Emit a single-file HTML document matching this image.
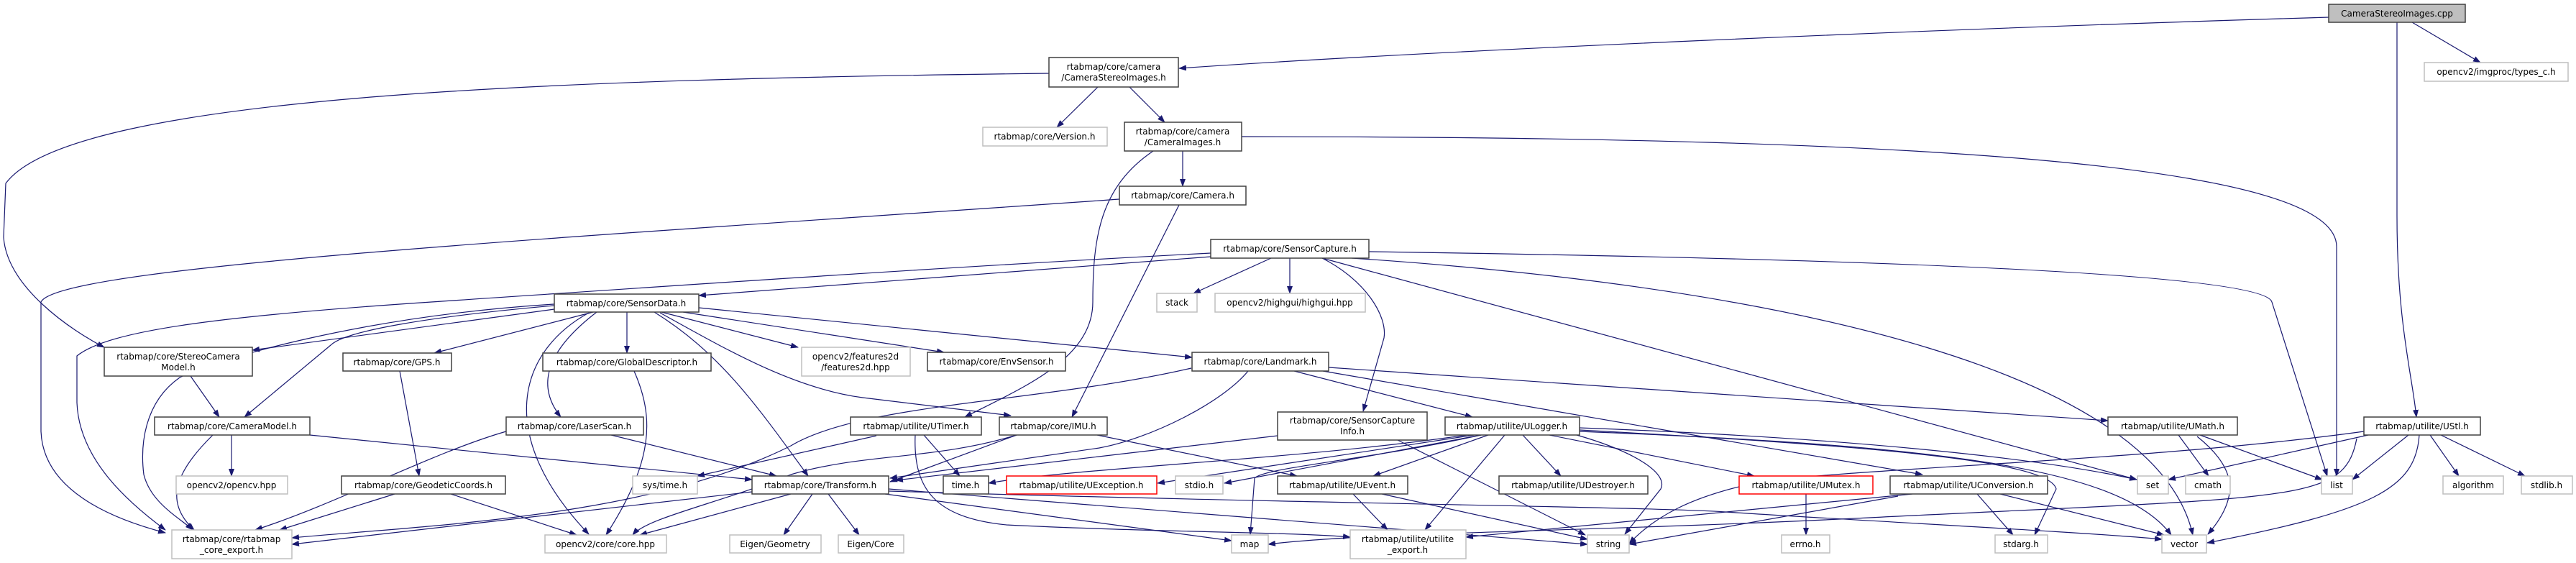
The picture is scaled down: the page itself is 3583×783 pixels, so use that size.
<!DOCTYPE html>
<html><head><meta charset="utf-8"><style>
html,body{margin:0;padding:0;background:#fff;}
svg{display:block;}
text{font-family:"DejaVu Sans","Liberation Sans",sans-serif;font-size:12px;fill:#000;text-anchor:middle;}
.e{fill:none;stroke:#191970;stroke-width:1.2;marker-end:url(#a);}
.B{fill:#fff;stroke:#404040;stroke-width:1.5;}
.G{fill:#fff;stroke:#bfbfbf;stroke-width:1.5;}
.R{fill:#fff;stroke:#ff0000;stroke-width:1.5;}
</style></head><body>
<svg width="3583" height="783" viewBox="0 0 3583 783" xmlns="http://www.w3.org/2000/svg">
<defs><marker id="a" markerUnits="userSpaceOnUse" markerWidth="11" markerHeight="8" refX="10" refY="4" orient="auto"><path d="M0,0 L11,4 L0,8 z" fill="#191970"/></marker></defs>
<!-- edges -->
<path class="e" d="M3239,24 C2700,40 2000,70 1640,95"/>
<path class="e" d="M3355,31 L3450,87"/>
<path class="e" d="M3334,31 L3334,300 C3334,450 3355,520 3361,580"/>
<path class="e" d="M1459,102 C800,110 100,130 8,255 L5,330 C10,400 100,460 145,483"/>
<path class="e" d="M1527,121 L1470,177"/>
<path class="e" d="M1571,121 L1620,170"/>
<path class="e" d="M1645,210 L1645,259"/>
<path class="e" d="M1727,190 C2700,190 3250,230 3250,343 L3250,662"/>
<path class="e" d="M1604,210 C1530,260 1520,330 1520,420 C1520,500 1420,540 1342,580"/>
<path class="e" d="M1640,285 L1491,580"/>
<path class="e" d="M1557,277 C800,330 80,370 57,420 L57,600 C60,680 150,720 230,741"/>
<path class="e" d="M1684,357 L972,411"/>
<path class="e" d="M1684,352 C1300,372 900,400 600,420 C300,440 150,460 107,495 L107,560 C110,640 180,700 230,737"/>
<path class="e" d="M1768,359 L1660,408"/>
<path class="e" d="M1794,359 L1794,408"/>
<path class="e" d="M1839,359 C1900,390 1930,440 1925,470 L1896,572"/>
<path class="e" d="M1839,359 L2972,667"/>
<path class="e" d="M1904,350 C2600,360 3150,380 3160,420 L3237,662"/>
<path class="e" d="M1880,359 C2500,400 3000,520 3050,744"/>
<path class="e" d="M771,430 L351,487"/>
<path class="e" d="M771,425 C600,440 480,460 460,480 L340,580"/>
<path class="e" d="M771,423 C500,440 300,500 250,525 C200,560 195,620 200,660 C210,700 250,720 268,737"/>
<path class="e" d="M825,434 L604,491"/>
<path class="e" d="M872,434 L872,491"/>
<path class="e" d="M920,434 L1110,483"/>
<path class="e" d="M950,434 L1313,490"/>
<path class="e" d="M972,428 L1658,497"/>
<path class="e" d="M830,434 C770,480 740,530 780,580"/>
<path class="e" d="M819,435 C719,490 689,607 819,743"/>
<path class="e" d="M910,434 C1000,490 1050,560 1124,662"/>
<path class="e" d="M918,435 C1000,480 1100,540 1200,553 L1406,578"/>
<path class="e" d="M1657,512 C1450,560 1200,560 1100,620 C900,720 600,730 406,748"/>
<path class="e" d="M1736,516 C1700,560 1600,610 1529,623 L1238,665"/>
<path class="e" d="M1800,516 L2048,580"/>
<path class="e" d="M1848,511 L2932,585"/>
<path class="e" d="M1840,516 L2674,660"/>
<path class="e" d="M1285,605 L1335,662"/>
<path class="e" d="M1219,606 L970,662"/>
<path class="e" d="M1273,605 C1270,680 1300,720 1400,730 C1600,740 1800,740 1878,747"/>
<path class="e" d="M1414,605 L1238,670"/>
<path class="e" d="M1414,605 C1300,640 1200,630 1100,660 C1000,700 900,720 880,744"/>
<path class="e" d="M1526,605 L1804,662"/>
<path class="e" d="M1777,606 L1246,668"/>
<path class="e" d="M1944,612 L2205,744"/>
<path class="e" d="M2040,605 C1800,640 1500,650 1375,672"/>
<path class="e" d="M2050,605 L1610,672"/>
<path class="e" d="M2060,605 L1703,672"/>
<path class="e" d="M2060,605 C1900,640 1760,650 1745,665 L1739,743"/>
<path class="e" d="M2070,605 L1910,662"/>
<path class="e" d="M2093,605 L1982,737"/>
<path class="e" d="M2118,605 L2171,662"/>
<path class="e" d="M2193,605 C2280,630 2320,660 2310,680 L2260,743"/>
<path class="e" d="M2155,605 L2440,662"/>
<path class="e" d="M2197,595 C2600,610 2850,640 2972,667"/>
<path class="e" d="M2197,598 C2600,620 2850,640 2860,680 L2830,744"/>
<path class="e" d="M2197,600 C2700,620 2950,650 3020,744"/>
<path class="e" d="M3030,605 L3072,662"/>
<path class="e" d="M3056,607 C3110,650 3117,690 3071,743"/>
<path class="e" d="M3060,605 L3230,667"/>
<path class="e" d="M3294,605 L3016,667"/>
<path class="e" d="M3350,605 L3272,667"/>
<path class="e" d="M3380,605 L3420,662"/>
<path class="e" d="M3395,605 L3512,662"/>
<path class="e" d="M3365,605 C3360,680 3300,710 3070,755"/>
<path class="e" d="M3288,600 C3000,640 2600,650 2450,670 C2350,690 2300,720 2266,756"/>
<path class="e" d="M3278,610 C3260,700 3200,690 2600,720 C2200,740 1900,740 1764,757"/>
<path class="e" d="M2750,687 L2800,744"/>
<path class="e" d="M2782,687 L3010,744"/>
<path class="e" d="M2640,690 L2266,757"/>
<path class="e" d="M2660,687 L2039,747"/>
<path class="e" d="M2512,687 L2512,744"/>
<path class="e" d="M1882,687 L1930,737"/>
<path class="e" d="M1922,687 L2208,750"/>
<path class="e" d="M1046,684 L406,757"/>
<path class="e" d="M1100,687 L890,744"/>
<path class="e" d="M1130,687 L1090,744"/>
<path class="e" d="M1152,687 L1195,744"/>
<path class="e" d="M1231,687 L1713,752"/>
<path class="e" d="M1236,680 L2208,757"/>
<path class="e" d="M1236,683 C1800,700 2300,705 2400,712 C2600,725 2900,740 3007,750"/>
<path class="e" d="M296,605 C240,660 230,700 270,737"/>
<path class="e" d="M322,605 L322,662"/>
<path class="e" d="M431,605 L1046,667"/>
<path class="e" d="M265,523 L305,580"/>
<path class="e" d="M556,516 L583,662"/>
<path class="e" d="M882,516 C910,580 910,640 843,744"/>
<path class="e" d="M704,600 C600,630 470,700 355,737"/>
<path class="e" d="M850,605 L1080,662"/>
<path class="e" d="M549,687 L389,737"/>
<path class="e" d="M627,687 L802,744"/>
<!-- nodes -->
<rect class="B" x="3239" y="6" width="190" height="25" style="fill:#bfbfbf"/><text x="3334" y="23">CameraStereoImages.cpp</text>
<rect class="G" x="3372" y="87" width="200" height="26"/><text x="3472" y="104">opencv2/imgproc/types_c.h</text>
<rect class="B" x="1459" y="80" width="180" height="41"/><text x="1549" y="97">rtabmap/core/camera</text><text x="1549" y="112">/CameraStereoImages.h</text>
<rect class="G" x="1367" y="177" width="173" height="26"/><text x="1453" y="194">rtabmap/core/Version.h</text>
<rect class="B" x="1564" y="170" width="163" height="40"/><text x="1645" y="187">rtabmap/core/camera</text><text x="1645" y="202">/CameraImages.h</text>
<rect class="B" x="1557" y="259" width="176" height="26"/><text x="1645" y="276">rtabmap/core/Camera.h</text>
<rect class="B" x="1684" y="333" width="220" height="26"/><text x="1794" y="350">rtabmap/core/SensorCapture.h</text>
<rect class="G" x="1609" y="408" width="56" height="26"/><text x="1637" y="425">stack</text>
<rect class="G" x="1690" y="408" width="209" height="26"/><text x="1794" y="425">opencv2/highgui/highgui.hpp</text>
<rect class="B" x="771" y="409" width="201" height="25"/><text x="871" y="426">rtabmap/core/SensorData.h</text>
<rect class="B" x="145" y="483" width="206" height="40"/><text x="248" y="500">rtabmap/core/StereoCamera</text><text x="248" y="515">Model.h</text>
<rect class="B" x="477" y="491" width="151" height="25"/><text x="552" y="508">rtabmap/core/GPS.h</text>
<rect class="B" x="755" y="491" width="234" height="25"/><text x="872" y="508">rtabmap/core/GlobalDescriptor.h</text>
<rect class="G" x="1115" y="483" width="151" height="40"/><text x="1190" y="500">opencv2/features2d</text><text x="1190" y="515">/features2d.hpp</text>
<rect class="B" x="1290" y="490" width="192" height="26"/><text x="1386" y="507">rtabmap/core/EnvSensor.h</text>
<rect class="B" x="1658" y="490" width="190" height="26"/><text x="1753" y="507">rtabmap/core/Landmark.h</text>
<rect class="B" x="215" y="580" width="216" height="25"/><text x="323" y="597">rtabmap/core/CameraModel.h</text>
<rect class="B" x="704" y="580" width="191" height="25"/><text x="799" y="597">rtabmap/core/LaserScan.h</text>
<rect class="B" x="1183" y="580" width="182" height="25"/><text x="1274" y="597">rtabmap/utilite/UTimer.h</text>
<rect class="B" x="1390" y="580" width="150" height="25"/><text x="1465" y="597">rtabmap/core/IMU.h</text>
<rect class="B" x="1777" y="573" width="208" height="39"/><text x="1881" y="589">rtabmap/core/SensorCapture</text><text x="1881" y="604">Info.h</text>
<rect class="B" x="2010" y="580" width="187" height="25"/><text x="2103" y="597">rtabmap/utilite/ULogger.h</text>
<rect class="B" x="2932" y="580" width="180" height="25"/><text x="3022" y="597">rtabmap/utilite/UMath.h</text>
<rect class="B" x="3288" y="580" width="162" height="25"/><text x="3369" y="597">rtabmap/utilite/UStl.h</text>
<rect class="G" x="245" y="662" width="155" height="25"/><text x="322" y="679">opencv2/opencv.hpp</text>
<rect class="B" x="475" y="662" width="228" height="25"/><text x="589" y="679">rtabmap/core/GeodeticCoords.h</text>
<rect class="G" x="880" y="662" width="90" height="25"/><text x="925" y="679">sys/time.h</text>
<rect class="B" x="1046" y="662" width="190" height="25"/><text x="1141" y="679">rtabmap/core/Transform.h</text>
<rect class="B" x="1312" y="662" width="63" height="25"/><text x="1343" y="679">time.h</text>
<rect class="R" x="1400" y="662" width="209" height="25"/><text x="1504" y="679">rtabmap/utilite/UException.h</text>
<rect class="G" x="1635" y="662" width="66" height="25"/><text x="1668" y="679">stdio.h</text>
<rect class="B" x="1777" y="662" width="181" height="25"/><text x="1867" y="679">rtabmap/utilite/UEvent.h</text>
<rect class="B" x="2085" y="662" width="207" height="25"/><text x="2188" y="679">rtabmap/utilite/UDestroyer.h</text>
<rect class="R" x="2419" y="662" width="186" height="25"/><text x="2512" y="679">rtabmap/utilite/UMutex.h</text>
<rect class="B" x="2629" y="662" width="219" height="25"/><text x="2738" y="679">rtabmap/utilite/UConversion.h</text>
<rect class="G" x="2973" y="662" width="43" height="25"/><text x="2994" y="679">set</text>
<rect class="G" x="3040" y="662" width="62" height="25"/><text x="3071" y="679">cmath</text>
<rect class="G" x="3229" y="662" width="43" height="25"/><text x="3250" y="679">list</text>
<rect class="G" x="3398" y="662" width="84" height="25"/><text x="3440" y="679">algorithm</text>
<rect class="G" x="3507" y="662" width="71" height="25"/><text x="3542" y="679">stdlib.h</text>
<rect class="G" x="239" y="737" width="167" height="40"/><text x="322" y="754">rtabmap/core/rtabmap</text><text x="322" y="769">_core_export.h</text>
<rect class="G" x="758" y="744" width="169" height="25"/><text x="842" y="761">opencv2/core/core.hpp</text>
<rect class="G" x="1015" y="744" width="127" height="25"/><text x="1078" y="761">Eigen/Geometry</text>
<rect class="G" x="1166" y="744" width="91" height="25"/><text x="1211" y="761">Eigen/Core</text>
<rect class="G" x="1713" y="744" width="51" height="25"/><text x="1738" y="761">map</text>
<rect class="G" x="1878" y="737" width="161" height="40"/><text x="1958" y="754">rtabmap/utilite/utilite</text><text x="1958" y="769">_export.h</text>
<rect class="G" x="2208" y="744" width="58" height="25"/><text x="2237" y="761">string</text>
<rect class="G" x="2478" y="744" width="67" height="25"/><text x="2511" y="761">errno.h</text>
<rect class="G" x="2775" y="744" width="73" height="25"/><text x="2811" y="761">stdarg.h</text>
<rect class="G" x="3007" y="744" width="62" height="25"/><text x="3038" y="761">vector</text>
</svg>
</body></html>
